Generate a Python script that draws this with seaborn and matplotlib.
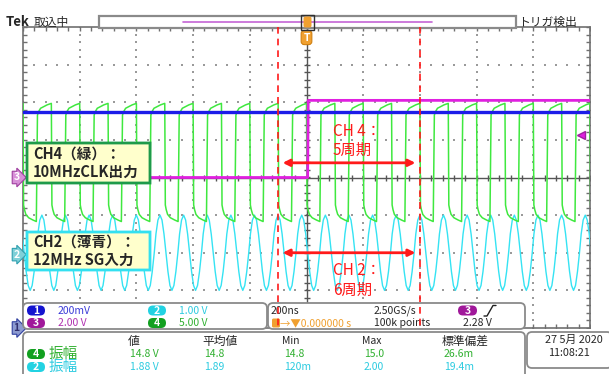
import numpy as np
import matplotlib.pyplot as plt
import seaborn as sns
from matplotlib.patches import FancyBboxPatch, Rectangle
from matplotlib import transforms

W, H = 609, 374

# ---- values (time in ns, amplitude in divisions) ----
t_range = (-1000, 1000)          # 200 ns/div, 10 div
div_range = (-4, 4)

ch1_level = 1.74                 # CH1 blue, flat
ch3_t = [-1000, 4, 6, 1000]      # CH3 magenta, step at trigger
ch3_v = [0.0, 0.0, 2.05, 2.05]

# CH4 green 10MHz clock, one cycle starting at the falling edge
ch4_cycle_t = [0, 2, 5, 10, 20, 35, 47, 51, 55, 62, 72, 85, 99]
ch4_cycle_v = [1.97, -0.73, -0.85, -0.98, -1.07, -1.13, -1.17, 1.66, 1.75, 1.84, 1.88, 1.93, 1.97]
ch4_period = 100
ch4_first_fall = -1100
ch4_cycles = 22

# CH2 cyan 12MHz sine, one period starting at the peak
ch2_cycle_t = [0, 7, 14, 21, 28, 35, 42, 49, 56, 63, 69, 76]
ch2_cycle_v = [-1.0, -1.13, -1.5, -2.0, -2.5, -2.87, -3.0, -2.87, -2.5, -2.0, -1.5, -1.13]
ch2_period = 83.33
ch2_first_peak = -1016.7
ch2_cycles = 26

cursors = [-100, 400]
trig_level = 1.14                # 2.28 V at 2.00 V/div
gnd_markers = [('1', -4.0), ('2', -2.05), ('3', 0.0)]

scale_labels = [('1', '200mV'), ('2', '1.00 V'), ('3', '2.00 V'), ('4', '5.00 V')]
meas_headers = ['値', '平均値', 'Min', 'Max', '標準偏差']
meas_ch4 = ['14.8 V', '14.8', '14.8', '15.0', '26.6m']
meas_ch2 = ['1.88 V', '1.89', '120m', '2.00', '19.4m']

col = {'1': '#1c1ce8', '2': '#35e3f3', '3': '#e020e0', '4': '#3fe83f'}
pill_col = {'1': '#1414d0', '2': '#22d2e2', '3': '#a0189a', '4': '#12a020'}
txt_col = {'1': '#3a3ad8', '2': '#2ccbe0', '3': '#b030b0', '4': '#30b030'}
orange = '#f0a030'
red = '#ff1a1a'

sns.set_style('white')
plt.rcParams['font.family'] = ['Noto Sans CJK JP', 'DejaVu Sans']

fig = plt.figure(figsize=(W / 100, H / 100), dpi=100)
ax = fig.add_axes([23 / W, 1 - 328 / H, 567 / W, 301 / H])
ax.set_xlim(*t_range)
ax.set_ylim(*div_range)
ax.set_xticks([])
ax.set_yticks([])
for s in ax.spines.values():
    s.set_color('#707070')
    s.set_linewidth(1.2)

# graticule dots and centre cross
minor_x = np.arange(-1000, 1001, 40)
minor_y = np.arange(-4, 4.01, 0.2)
major_x = [-800, -600, -400, -200, 200, 400, 600, 800]
major_y = [-3, -2, -1, 1, 2, 3]
gx, gy = np.meshgrid(major_x, minor_y)
ax.scatter(gx.ravel(), gy.ravel(), s=1.0, c='#9a9a9a', marker='s', lw=0, zorder=1)
gx, gy = np.meshgrid(minor_x, major_y)
ax.scatter(gx.ravel(), gy.ravel(), s=1.0, c='#9a9a9a', marker='s', lw=0, zorder=1)
ax.axhline(0, color='#555555', lw=1, zorder=1)
ax.axvline(0, color='#555555', lw=1, zorder=1)
ax.plot(minor_x, np.zeros_like(minor_x), ls='none', marker='|', ms=4, color='#555555', zorder=1)
ax.plot(np.zeros_like(minor_y), minor_y, ls='none', marker='_', ms=4, color='#555555', zorder=1)
for yb in div_range:
    ax.plot(minor_x, np.full(minor_x.shape, yb), ls='none', marker='|', ms=6, color='#707070', zorder=1)
for xb in t_range:
    ax.plot(np.full(minor_y.shape, xb), minor_y, ls='none', marker='_', ms=6, color='#707070', zorder=1)

# traces
ch2_t = np.concatenate([ch2_first_peak + k * ch2_period + np.array(ch2_cycle_t) for k in range(ch2_cycles)])
ch2_v = np.tile(ch2_cycle_v, ch2_cycles)
ch4_t = np.concatenate([ch4_first_fall + k * ch4_period + np.array(ch4_cycle_t) for k in range(ch4_cycles)])
ch4_v = np.tile(ch4_cycle_v, ch4_cycles)

sns.lineplot(x=ch2_t, y=ch2_v, ax=ax, color=col['2'], lw=1.0, sort=False, estimator=None, zorder=3)
sns.lineplot(x=ch4_t, y=ch4_v, ax=ax, color=col['4'], lw=1.1, sort=False, estimator=None, zorder=4)
sns.lineplot(x=ch3_t, y=ch3_v, ax=ax, color=col['3'], lw=2.0, sort=False, estimator=None, zorder=5)
sns.lineplot(x=list(t_range), y=[ch1_level, ch1_level], ax=ax, color=col['1'], lw=2.4, estimator=None, zorder=6)

# measurement arrows and notes
for yv in [0.39, -2.0]:
    ax.annotate('', xy=(cursors[0] + 6, yv), xytext=(cursors[1] - 6, yv),
                arrowprops=dict(arrowstyle='<|-|>', color=red, lw=2, mutation_scale=10), zorder=8)
ax.text(93, 0.97, 'CH 4：\n5周期', color=red, fontsize=11, va='center', ha='left',
        linespacing=1.2, zorder=8)
ax.text(93, -2.73, 'CH 2：\n6周期', color=red, fontsize=11, va='center', ha='left',
        linespacing=1.2, zorder=8)

# ground markers left, trigger level right, trigger T on top
ytr = ax.get_yaxis_transform()
mk_style = {'1': ('#8c9ad0', '#3040a0', '#303070'),
            '2': ('#7fd0d8', '#30a0b0', '#ffffff'),
            '3': ('#d890d8', '#a040a0', '#ffffff')}
for lab, lvl in gnd_markers:
    fc, ec, tc = mk_style[lab]
    ax.text(-0.006, lvl, lab, transform=ytr, ha='right', va='center', fontsize=7.5,
            fontweight='bold', color=tc, clip_on=False, zorder=9,
            bbox=dict(boxstyle='rarrow,pad=0.12', fc=fc, ec=ec, lw=0.8))
ax.plot([0.985], [trig_level], transform=ytr, marker='<', ms=6, color=col['3'],
        mec='#a020a0', clip_on=False, zorder=9)
xtr = ax.get_xaxis_transform()
ax.text(0, 0.965, 'T', transform=xtr, ha='center', va='center', fontsize=7.5, fontweight='bold',
        color='white', clip_on=False, zorder=9,
        bbox=dict(boxstyle='round,pad=0.2,rounding_size=0.3', fc=orange, ec='#d08010', lw=0.8))

# ---- overlay for screen readouts (pixel coordinates) ----
ui = fig.add_axes([0, 0, 1, 1], zorder=5)
ui.set_xlim(0, W)
ui.set_ylim(H, 0)
ui.axis('off')
ui.patch.set_alpha(0)


def panel(x0, y0, x1, y1, r=5, fc='white', ec='#8a8a8a', lw=1.3, z=11):
    ui.add_patch(FancyBboxPatch((x0, y0), x1 - x0, y1 - y0, boxstyle=f'round,pad=0,rounding_size={r}',
                                fc=fc, ec=ec, lw=lw, zorder=z, clip_on=False))


def pill(x, y, ch, w=18, h=10):
    ui.add_patch(FancyBboxPatch((x, y - h / 2), w, h, boxstyle=f'round,pad=0,rounding_size={h / 2}',
                                fc=pill_col[ch], ec='none', zorder=12))
    ui.text(x + w / 2, y, ch, color='white', fontsize=7.5, fontweight='bold', ha='center',
            va='center', zorder=13)


# top bar
ui.text(6, 22, 'Tek', fontsize=9.5, fontweight='bold', va='center', zorder=12)
ui.text(34, 22, '取込中', fontsize=8.5, va='center', zorder=12)
ui.add_patch(Rectangle((99, 16), 417, 12, fc='white', ec='#8a8a8a', lw=1.6, zorder=11))
ui.plot([183, 432], [22, 22], color='#c464d4', lw=1.2, zorder=12)
ui.add_patch(Rectangle((301, 14.5), 13, 15, fc='none', ec='#303030', lw=1, zorder=12))
ui.add_patch(FancyBboxPatch((303.5, 16.5), 8, 11, boxstyle='round,pad=0,rounding_size=2',
                            fc=orange, ec='none', zorder=12))
ui.text(518, 22, 'トリガ検出', fontsize=8.5, va='center', zorder=12)

# channel scale box
panel(23, 303, 267, 329)
rows = [310.5, 323]
for i, (ch, txt) in enumerate(scale_labels):
    x = 27 if i % 2 == 0 else 148
    y = rows[i // 2]
    pill(x, y, ch)
    ui.text(x + 31, y, txt, color=txt_col[ch], fontsize=7.5, va='center', zorder=13)

# timebase / trigger box
panel(268, 303, 525, 329)
ui.text(271, 310.5, '200ns', fontsize=7.5, va='center', zorder=13)
ui.text(374, 310.5, '2.50GS/s', fontsize=7.5, va='center', zorder=13)
pill(458, 310.5, '3', w=19)
ui.plot([484, 487, 493, 496], [316, 316, 305.5, 305.5], color='#202020', lw=1, zorder=13)
ui.add_patch(FancyBboxPatch((272, 318.5), 8, 9, boxstyle='round,pad=0,rounding_size=1.5',
                            fc=orange, ec='none', zorder=12))
ui.text(280, 323, '→▼0.000000 s', color=orange, fontsize=7.5, va='center', zorder=13)
ui.text(374, 323, '100k points', fontsize=7.5, va='center', zorder=13)
ui.text(463, 323, '2.28 V', fontsize=7.5, va='center', zorder=13)

# measurements box
panel(23, 332, 525, 384)
head_x = [128, 202, 282, 362, 442]
for x, h in zip(head_x, meas_headers):
    ui.text(x, 341, h, fontsize=8.5 if h not in ('Min', 'Max') else 7.5, va='center', zorder=13)
for y, ch, vals in [(354, '4', meas_ch4), (367, '2', meas_ch2)]:
    pill(27, y, ch)
    ui.text(49, y, '振幅', color=txt_col[ch], fontsize=10.5, va='center', zorder=13)
    for x, v in zip(head_x, vals):
        ui.text(x + 2, y, v, color=txt_col[ch], fontsize=7.5, va='center', zorder=13)

# date box
panel(527, 332, 612, 368)
ui.text(545, 340, '27 5月 2020', fontsize=7.8, va='center', zorder=13)
ui.text(548, 353, '11:08:21', fontsize=7.8, va='center', zorder=13)

# cursor lines drawn on top of readouts, x from the scope time axis
blend = transforms.blended_transform_factory(ax.transData, ui.transData)
for c in cursors:
    ui.plot([c, c], [27, 330], transform=blend, color=red, lw=1.2, ls=(0, (4, 3)), zorder=14)

# note boxes
panel(27, 143, 150, 183, r=0, fc='#ffffcc', ec='#1e9a4a', lw=2, z=15)
ui.text(33, 163, 'CH4（緑）：\n10MHzCLK出力', fontsize=10.5, fontweight='bold', va='center',
        linespacing=1.15, zorder=16)
panel(27, 232, 150, 270, r=0, fc='#ffffcc', ec='#33e0f0', lw=2, z=15)
ui.text(33, 251, 'CH2（薄青）：\n12MHz SG入力', fontsize=10.5, fontweight='bold', va='center',
        linespacing=1.15, zorder=16)

fig.savefig('out.png', dpi=100)
